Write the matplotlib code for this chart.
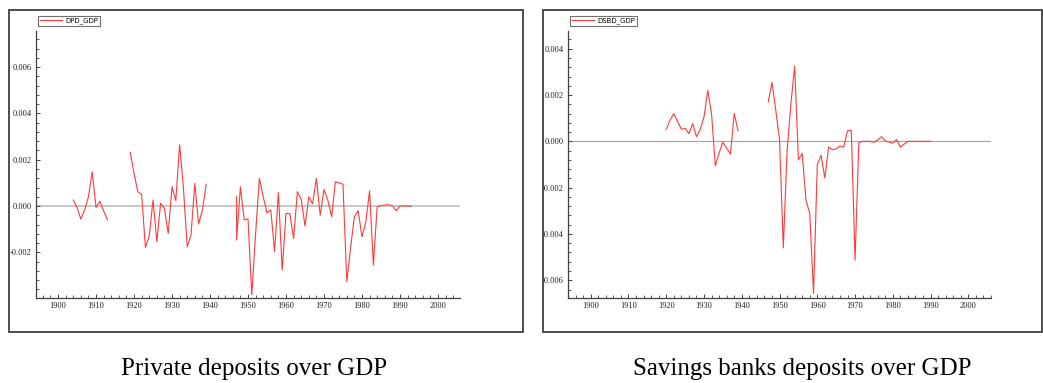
import numpy as np
import matplotlib
matplotlib.use('Agg')
import matplotlib.pyplot as plt
from matplotlib.patches import Rectangle
from matplotlib.ticker import MultipleLocator, FormatStrFormatter

# Private deposits over GDP (first difference), three pieces with gaps
dpd_years_a = np.arange(1904, 1914)
dpd_a = [0.00026, -0.00006, -0.00056, -0.00017, 0.0004, 0.00148, -0.00006, 0.0002, -0.0002, -0.0006]

dpd_years_b = np.arange(1919, 1940)
dpd_b = [0.00232, 0.00141, 0.00062, 0.0005, -0.00178, -0.0013, 0.00026, -0.00154, 0.00012, -0.0001,
         -0.00118, 0.00083, 0.00023, 0.00264, 0.0008, -0.00176, -0.00125, 0.00098, -0.00078, -0.00017,
         0.00094]

# the post-war piece opens with a jump inside 1947
dpd_years_c = np.r_[1947, np.arange(1947, 1994)]
dpd_c = [0.0004, -0.00147, 0.00083, -0.0006, -0.00055, -0.00384, -0.0012, 0.0012, 0.0004, -0.00029,
         -0.00017, -0.00197, 0.00058, -0.00276, -0.00032, -0.00032, -0.0014, 0.00062, 0.0003, -0.00086,
         0.0004, 0.0001, 0.0012, -0.0004, 0.00072, 0.00026, -0.00046, 0.00105, 0.001, 0.00094,
         -0.00327, -0.0018, -0.00046, -0.0002, -0.00133, -0.0007, 0.00066, -0.00255, -0.00003, 0.00002,
         0.00004, 0.00006, 0.00001, -0.0002, 0.0, 0.00001, 0.0, 0.0]

# Savings banks deposits over GDP
dsbd_years_a = np.arange(1920, 1940)
dsbd_a = [0.00052, 0.00092, 0.0012, 0.00086, 0.00052, 0.00056, 0.00033, 0.00077, 0.0002, 0.00052,
          0.00106, 0.0022, 0.00118, -0.00106, -0.0005, -0.00003, -0.0003, -0.00055, 0.00121, 0.00046]

dsbd_years_b = np.arange(1947, 1991)
dsbd_b = [0.0017, 0.00255, 0.00135, 0.00006, -0.0046, -0.0004, 0.0016, 0.00325, -0.0008, -0.00052,
          -0.00254, -0.00311, -0.00657, -0.00102, -0.0006, -0.00158, -0.00025, -0.00036, -0.00033, -0.0002,
          -0.00025, 0.00046, 0.00048, -0.00513, -0.00005, 0.0, 0.0, 0.0, -0.00004, 0.00006,
          0.0002, 0.00002, -0.00003, -0.00008, 0.00008, -0.00026, -0.00012, 0.0, 0.0, 0.0,
          0.0, 0.0, 0.0, 0.0]

captions = ['Private deposits over GDP', 'Savings banks deposits over GDP']
legend_names = ['DPD_GDP', 'DSBD_GDP']

RED = '#ff3a3a'
W, H = 1043, 383

fig = plt.figure(figsize=(W / 100, H / 100), dpi=100)


def px_axes(x0, x1, y0, y1):
    # pixel box (top-left origin) -> figure fraction
    return fig.add_axes([x0 / W, 1 - y1 / H, (x1 - x0) / W, (y1 - y0) / H])


def style_axes(ax, xlim, ylim, zero_color, zero_lw):
    ax.set_xlim(*xlim)
    ax.set_ylim(*ylim)
    ax.axhline(0, color=zero_color, lw=zero_lw, zorder=1)
    for s in ['top', 'right']:
        ax.spines[s].set_visible(False)
    for s in ['left', 'bottom']:
        ax.spines[s].set_color('#404040')
        ax.spines[s].set_linewidth(0.9)
    ax.xaxis.set_major_locator(MultipleLocator(10))
    ax.xaxis.set_minor_locator(MultipleLocator(2))
    ax.yaxis.set_major_locator(MultipleLocator(0.002))
    ax.yaxis.set_minor_locator(MultipleLocator(0.0004))
    ax.yaxis.set_major_formatter(FormatStrFormatter('%.3f'))
    ax.tick_params(which='major', direction='in', length=3, width=0.7, color='#404040',
                   labelsize=6, pad=3)
    ax.tick_params(which='minor', direction='in', length=2, width=0.6, color='#404040')
    for lab in ax.get_xticklabels() + ax.get_yticklabels():
        lab.set_fontfamily('Liberation Serif')
        lab.set_color('#202020')


# outer frames
for x0, x1 in [(9, 523), (543, 1042)]:
    fig.patches.append(Rectangle((x0 / W, 1 - 332 / H), (x1 - x0) / W, 322 / H,
                                 transform=fig.transFigure, fill=False,
                                 edgecolor='#404040', lw=1.3))

ax1 = px_axes(36, 460, 30.7, 298)
ax1.plot(dpd_years_a, dpd_a, color=RED, lw=0.8, label=legend_names[0], zorder=3)
ax1.plot(dpd_years_b, dpd_b, color=RED, lw=0.8, zorder=3)
ax1.plot(dpd_years_c, dpd_c, color=RED, lw=0.8, zorder=3)
style_axes(ax1, (1894.2, 2005.8), (-0.00397, 0.00757), '#c8c8c8', 1.4)

ax2 = px_axes(567.7, 991, 30.7, 298.3)
ax2.plot(dsbd_years_a, dsbd_a, color=RED, lw=0.8, label=legend_names[1], zorder=3)
ax2.plot(dsbd_years_b, dsbd_b, color=RED, lw=0.8, zorder=3)
style_axes(ax2, (1893.9, 2006.0), (-0.00678, 0.00478), '#a8a8a8', 0.9)

for ax in [ax1, ax2]:
    leg = ax.legend(loc='upper left', bbox_to_anchor=(0.005, 1.055), borderaxespad=0,
                    fancybox=False, framealpha=1, edgecolor='#707070',
                    prop={'family': 'DejaVu Sans', 'size': 5}, handlelength=3.2,
                    handletextpad=0.5, borderpad=0.25)
    leg.get_frame().set_linewidth(0.8)

fig.text(254 / W, 1 - 369 / H, captions[0], ha='center', va='center',
         family='Liberation Serif', fontsize=18)
fig.text(802 / W, 1 - 369 / H, captions[1], ha='center', va='center',
         family='Liberation Serif', fontsize=18)

fig.savefig('out.png', dpi=100)
